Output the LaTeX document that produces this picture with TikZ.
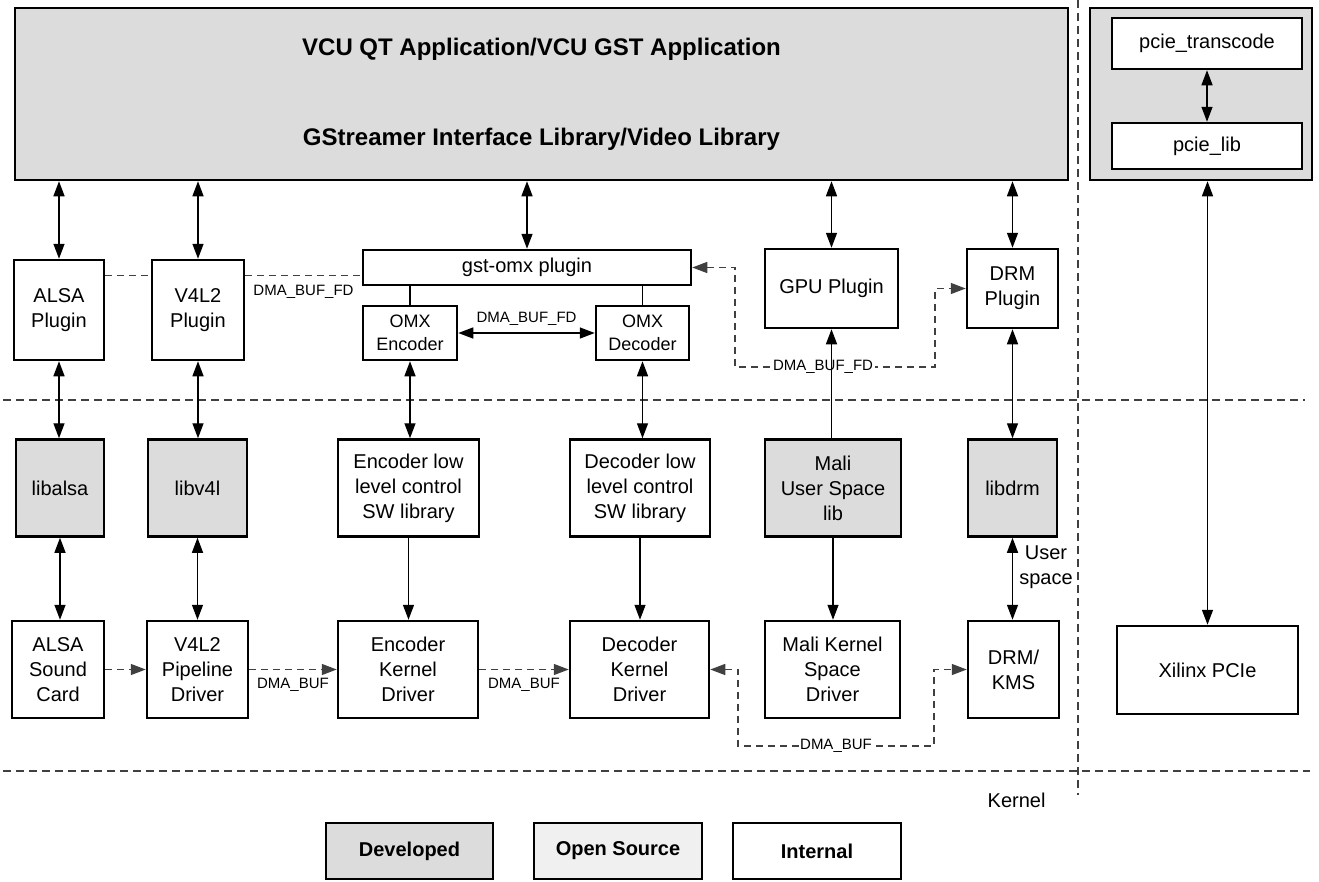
\documentclass[tikz,border=0pt]{standalone}
\usepackage{fontspec}
\setmainfont{Liberation Sans}
\usepackage{tikz}
\usetikzlibrary{arrows.meta}
\definecolor{devel}{HTML}{DCDCDC}
\definecolor{opensrc}{HTML}{F0F0F0}
\definecolor{sepgray}{HTML}{404040}
\newcommand\boxtext{\fontsize{20}{25}\selectfont}
\newcommand\omxtext{\fontsize{18}{23}\selectfont}
\newcommand\smalltext{\fontsize{15}{18}\selectfont}
\newcommand\headtext{\fontsize{24}{28}\selectfont\bfseries}
\newcommand\legtext{\fontsize{20}{24}\selectfont\bfseries}
\tikzset{
  >={Triangle[length=15pt,width=11pt]},
  box/.style={draw=black, line width=2.5pt, fill=white, align=center, inner sep=0pt, font=\boxtext},
  gbox/.style={box, fill=devel},
  twoway/.style={draw=black, line width=1.4pt, <->},
  oneway/.style={draw=black, line width=1.4pt, ->},
  link/.style={draw=black, line width=1.4pt},
  dlink/.style={draw=sepgray, line width=1.4pt, dash pattern=on 7pt off 5pt},
  sepline/.style={draw=sepgray, line width=1.4pt, dash pattern=on 8pt off 5pt},
  lbl/.style={text=black, font=\smalltext, inner sep=1.5pt}
}

\begin{document}
\begin{tikzpicture}[x=1pt, y=-1pt]
  \useasboundingbox (0,0) rectangle (1319,881);

  % user space / kernel borders
  \draw[sepline] (3,400) -- (1305,400);
  \draw[sepline] (3,771) -- (1310,771);
  \draw[sepline] (1078,0) -- (1078,795);

  \node[gbox, minimum width=1053pt, minimum height=172pt] (app) at (541.5,94) {};
  \node[font=\headtext] (apptitle) at (541.5,49) {VCU QT Application/VCU GST Application};
  \node[font=\headtext] (libtitle) at (541.5,139) {GStreamer Interface Library/Video Library};

  \node[gbox, minimum width=222pt, minimum height=172pt] (pcie) at (1201,94) {};
  \node[box, minimum width=190pt, minimum height=51pt] (ptrans) at (1207,43.5) {pcie\_transcode};
  \node[box, minimum width=190pt, minimum height=46pt] (plib) at (1207,146) {pcie\_lib};

  % plugins
  \node[box, minimum width=90pt, minimum height=100pt] (aplug) at (59,310) {ALSA\\Plugin};
  \node[box, minimum width=92pt, minimum height=100pt] (vplug) at (198,310) {V4L2\\Plugin};
  \node[box, minimum width=328pt, minimum height=35pt] (gst) at (527,267.5) {gst-omx plugin};
  \node[box, minimum width=94pt, minimum height=54pt, font=\omxtext] (omxe) at (410,333) {OMX\\Encoder};
  \node[box, minimum width=93pt, minimum height=54pt, font=\omxtext] (omxd) at (642.5,333) {OMX\\Decoder};
  \node[box, minimum width=133pt, minimum height=79pt] (gpu) at (831.5,288.5) {GPU Plugin};
  \node[box, minimum width=91pt, minimum height=79pt] (drmp) at (1012.5,288.5) {DRM\\Plugin};

  % libraries
  \node[gbox, minimum width=88pt, minimum height=97pt] (libalsa) at (60,488) {libalsa};
  \node[gbox, minimum width=99pt, minimum height=97pt] (libv4l) at (197.5,488) {libv4l};
  \node[box, minimum width=141pt, minimum height=97pt] (encl) at (408.5,488) {Encoder low\\level control\\SW library};
  \node[box, minimum width=140pt, minimum height=97pt] (decl) at (640,488) {Decoder low\\level control\\SW library};
  \node[gbox, minimum width=136pt, minimum height=97pt] (maliu) at (833,488) {Mali\\User Space\\lib};
  \node[gbox, minimum width=89pt, minimum height=97pt] (libdrm) at (1012.5,488) {libdrm};

  % drivers
  \node[box, minimum width=92pt, minimum height=97pt] (asnd) at (58,669.5) {ALSA\\Sound\\Card};
  \node[box, minimum width=101pt, minimum height=97pt] (vpipe) at (197.5,669.5) {V4L2\\Pipeline\\Driver};
  \node[box, minimum width=140pt, minimum height=97pt] (enck) at (408,669.5) {Encoder\\Kernel\\Driver};
  \node[box, minimum width=139pt, minimum height=97pt] (deck) at (639.5,669.5) {Decoder\\Kernel\\Driver};
  \node[box, minimum width=135pt, minimum height=97pt] (malik) at (832.5,669.5) {Mali Kernel\\Space\\Driver};
  \node[box, minimum width=91pt, minimum height=97pt] (drmk) at (1013.5,669.5) {DRM/\\KMS};
  \node[box, minimum width=181pt, minimum height=88pt] (xpcie) at (1207.5,670) {Xilinx PCIe};

  \node[font=\boxtext, align=center] (uspace) at (1046,567) {User\\space};
  \node[font=\boxtext, anchor=east] (kern) at (1049,800) {Kernel};

  % legend
  \node[gbox, minimum width=167pt, minimum height=56pt, font=\legtext] (kdev) at (409.5,851) {Developed};
  \node[box, fill=opensrc, minimum width=168pt, minimum height=56pt, font=\legtext] (kopen) at (618,851) {Open Source};
  \node[box, minimum width=168pt, minimum height=56pt, font=\legtext] (kint) at (817,851) {Internal};

  % control paths
  \foreach \n in {aplug,vplug,gst,gpu,drmp}
    \draw[twoway] (\n.north |- app.south) -- (\n.north);
  \draw[twoway] (ptrans) -- (plib);
  \draw[twoway] (xpcie.north |- pcie.south) -- (xpcie.north);

  \draw[link] (omxe.north) -- (omxe.north |- gst.south);
  \draw[link] (omxd.north) -- (omxd.north |- gst.south);
  \draw[twoway] (omxe) -- node[lbl, above=5pt] {DMA\_BUF\_FD} (omxd);

  \draw[twoway] (aplug.south) -- (aplug.south |- libalsa.north);
  \draw[twoway] (vplug.south) -- (vplug.south |- libv4l.north);
  \draw[twoway] (omxe.south) -- (omxe.south |- encl.north);
  \draw[twoway] (omxd.south) -- (omxd.south |- decl.north);
  \draw[twoway] (drmp.south) -- (drmp.south |- libdrm.north);

  \draw[twoway] (libalsa.south) -- (libalsa.south |- asnd.north);
  \draw[twoway] (libv4l.south) -- (libv4l.south |- vpipe.north);
  \draw[oneway] (encl.south) -- (encl.south |- enck.north);
  \draw[oneway] (decl.south) -- (decl.south |- deck.north);
  \draw[oneway] (maliu.south) -- (maliu.south |- malik.north);
  \draw[twoway] (libdrm.south) -- (libdrm.south |- drmk.north);

  % buffer sharing
  \draw[dlink] ([yshift=-17pt]aplug.north east) coordinate (fda) -- (fda -| vplug.west);
  \draw[dlink] ([yshift=-17pt]vplug.north east) coordinate (fdb)
    -- node[lbl, below=7pt] {DMA\_BUF\_FD} (fdb -| gst.west);

  \coordinate (fdl) at (735,367);
  \coordinate (fdr) at (935,367);
  \draw[dlink, <->] (gst.east) -| (fdl)
    -- node[lbl, fill=white, pos=0.44] {DMA\_BUF\_FD} (fdr) |- (drmp.west);
  \draw[oneway] (gpu.south |- maliu.north) -- (gpu.south);

  \draw[dlink, ->] (asnd) -- (vpipe);
  \draw[dlink, ->] (vpipe) -- node[lbl, below=6pt] {DMA\_BUF} (enck);
  \draw[dlink, ->] (enck) -- node[lbl, below=6pt] {DMA\_BUF} (deck);

  \coordinate (bl) at (738,746);
  \coordinate (br) at (934,746);
  \draw[dlink, <->] (deck.east) -| (bl)
    -- node[lbl, fill=white, inner sep=0.5pt] {DMA\_BUF} (br) |- (drmk.west);
\end{tikzpicture}
\end{document}
